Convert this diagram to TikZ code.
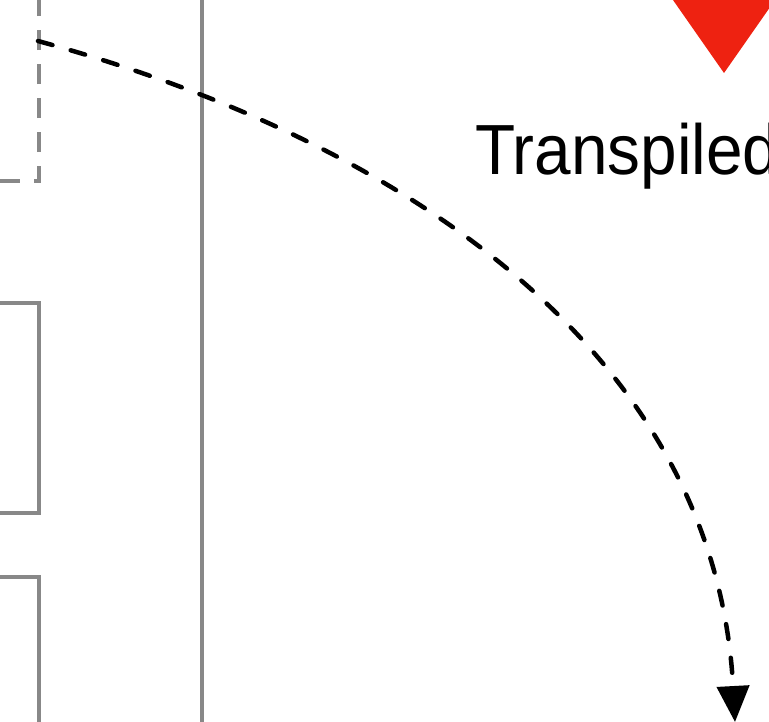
\documentclass[tikz,border=0pt]{standalone}
\usepackage{fontspec}
\usepackage{graphicx}
\setmainfont{Liberation Sans}
\usetikzlibrary{arrows.meta}
\definecolor{boxgray}{RGB}{136,136,136}
\definecolor{trired}{RGB}{238,34,17}
\begin{document}
\begin{tikzpicture}[x=1pt,y=-1pt,
  grayline/.style={draw=boxgray, line width=3.5pt},
  graydash/.style={grayline, dash pattern=on 20pt off 14pt},
  flowarrow/.style={draw=black, line width=4.5pt, line cap=round, dash pattern=on 15pt off 19pt,
    -{Triangle[length=36pt,width=32pt]}},
  biglabel/.style={anchor=base west, inner sep=0pt, font=\fontsize{71}{80}\selectfont}]
\useasboundingbox (0,0) rectangle (769,721);
% left boxes
\draw[graydash] (0,181) -- (39,181) -- (39,-20);
\draw[grayline] (-20,303) -- (39,303) -- (39,513) -- (-20,513);
\draw[grayline] (-20,577) -- (39,577) -- (39,740);
% vertical divider
\draw[grayline] (202,-20) -- (202,740);
% red marker
\fill[trired] (659,-20) -- (789,-20) -- (724,73) -- cycle;
% label
\node[biglabel] (lbl) at (475,174) {\scalebox{0.925}[1]{Transpiled}};
% arrow
\coordinate (src) at (38,41);
\coordinate (dst) at (735,722);
\draw[flowarrow] (src) .. controls (400,140) and (715,350) .. (dst);
\end{tikzpicture}
\end{document}
